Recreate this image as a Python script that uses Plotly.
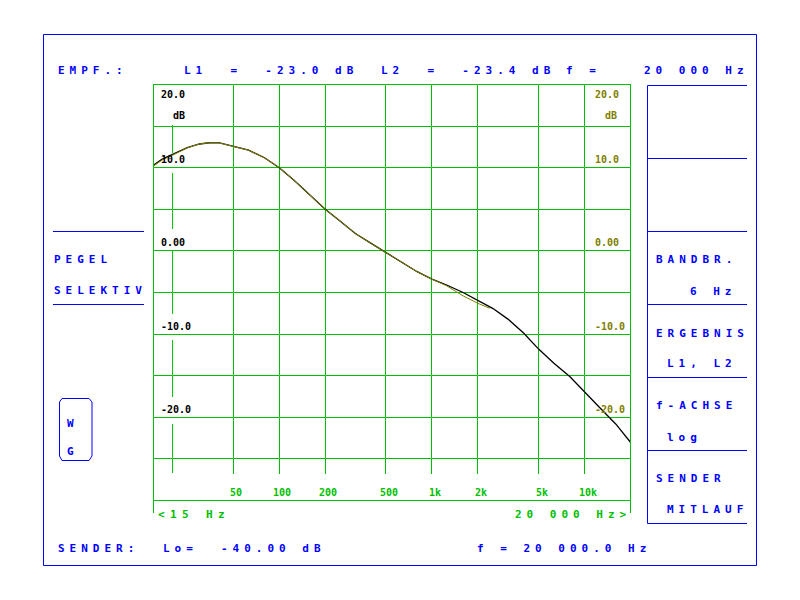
import math
import plotly.graph_objects as go

# ---------------- data ----------------
freq_l1 = [15, 17, 20, 25, 30, 35, 40, 50, 63, 80, 100, 125, 160, 200, 250, 315, 400,
           500, 630, 800, 1000, 1250, 1600, 2000, 2500, 3150, 4000, 5000, 6300, 8000,
           10000, 12500, 16000, 20000]
level_l1 = [10.3, 11.0, 11.6, 12.4, 12.85, 13.0, 13.0, 12.6, 12.1, 11.2, 10.0, 8.5, 6.7,
            5.0, 3.6, 2.1, 0.9, -0.2, -1.4, -2.5, -3.4, -4.1, -5.0, -6.0, -6.9, -8.2,
            -9.9, -11.8, -13.5, -15.1, -17.0, -18.8, -20.8, -23.0]
freq_l2 = [15, 17, 20, 25, 30, 35, 40, 50, 63, 80, 100, 125, 160, 200, 250, 315, 400,
           500, 630, 800, 1000, 1250, 1600, 2000, 2400]
level_l2 = [10.2, 10.9, 11.5, 12.4, 12.85, 13.0, 13.0, 12.6, 12.1, 11.2, 10.0, 8.5, 6.7,
            5.0, 3.6, 2.1, 0.9, -0.2, -1.4, -2.5, -3.4, -4.2, -5.4, -6.3, -6.9]

x_tick_vals = [50, 100, 200, 500, 1000, 2000, 5000, 10000]
x_tick_text = ["50", "100", "200", "500", "1k", "2k", "5k", "10k"]
y_tick_vals = [20, 10, 0, -10, -20]
y_tick_text = ["20.0", "10.0", "0.00", "-10.0", "-20.0"]
grid_freq = [50, 100, 200, 500, 1000, 2000, 5000, 10000]

F_MIN, F_MAX = 15, 20000
DB_MIN, DB_MAX = -30, 20
L1_TEXT = "-23.0"
L2_TEXT = "-23.4"
F_TEXT = "20 000"
LO_TEXT = "-40.00"
SENDER_F = "20 000.0"

# ---------------- layout helpers ----------------
W, H = 800, 600
OFF = 8  # page margin of the html body
BLUE = "#0000ff"
GREEN = "#00c000"
OLIVE = "#808000"
FONT = "DejaVu Sans Mono"
PLOT_TOP, PLOT_BOTTOM = 84.5, 500.5


def px(x):
    return (x - OFF) / W


def py(y):
    return 1 - (y - OFF) / H


annotations = []
shapes = []


def txt(s, x, y, color=BLUE, size=11, ls=5.0):
    s2 = s.replace(" ", "\u00a0")
    if ls:
        s2 = f'<span style="letter-spacing:{ls}px">{s2}</span>'
    annotations.append(dict(text=s2, x=px(x), y=py(y), xref="paper", yref="paper",
                            xanchor="left", yanchor="middle", showarrow=False,
                            borderpad=0,
                            font=dict(family=FONT, size=size, color=color, weight="bold")))


def pline(x0, y0, x1, y1, color=BLUE, width=1, layer="above"):
    shapes.append(dict(type="line", xref="paper", yref="paper",
                       x0=px(x0), y0=py(y0), x1=px(x1), y1=py(y1),
                       line=dict(color=color, width=width), layer=layer))


fig = go.Figure()
fig.add_trace(go.Scatter(x=freq_l1, y=level_l1, mode="lines",
                         line=dict(color="black", width=1.3),
                         hoverinfo="skip", showlegend=False))
fig.add_trace(go.Scatter(x=freq_l2, y=level_l2, mode="lines",
                         line=dict(color=OLIVE, width=1),
                         hoverinfo="skip", showlegend=False))

# outer blue frame
shapes.append(dict(type="rect", xref="paper", yref="paper",
                   x0=px(43.5), y0=py(34.5), x1=px(756.5), y1=py(565.5),
                   line=dict(color=BLUE, width=1)))

# left panel
pline(53, 231.5, 144, 231.5)
pline(53, 304.5, 144, 304.5)
wg = [(62, 398.5), (89, 398.5), (92, 402), (92, 456), (89, 460.5), (62, 460.5), (59.5, 456), (59.5, 402)]
path = "M " + " L ".join(f"{px(a):.5f},{py(b):.5f}" for a, b in wg) + " Z"
shapes.append(dict(type="path", xref="paper", yref="paper", path=path,
                   line=dict(color=BLUE, width=1)))

# right panel
pline(647.5, 85.5, 647.5, 523.5)
for yy in [85.5, 158.5, 231.5, 304.5, 377.5, 450.5, 523.5]:
    pline(647.5, yy, 747, yy)

# vertical grid lines end above the tick-label strip: white mask over that strip
shapes.append(dict(type="rect", xref="paper", yref="paper",
                   x0=px(154), x1=px(630), y0=py(474), y1=py(500),
                   fillcolor="white", line=dict(width=0), layer="above"))
# green plot frame
pline(153, 84.5, 631, 84.5, GREEN, 1, "above")
pline(153, 500.5, 631, 500.5, GREEN, 1, "above")
pline(153.5, 84, 153.5, 513, GREEN, 1, "above")
pline(630.5, 84, 630.5, 513, GREEN, 1, "above")
# 20 Hz line, interrupted by the level labels
for a, b in [(125, 153), (173, 229), (250, 314), (340, 397), (424, 473)]:
    shapes.append(dict(type="line", xref="x", yref="paper", x0=20, x1=20,
                       y0=py(a), y1=py(b), line=dict(color=GREEN, width=1), layer="below"))

# ---------------- texts ----------------
txt("EMPF.:", 57, 71)
txt(f"L1  =  {L1_TEXT} dB", 183, 71)
txt(f"L2  =  {L2_TEXT} dB", 380, 71)
txt("f =", 565, 71)
txt(f"{F_TEXT} Hz", 643, 71)

txt("PEGEL", 53, 260)
txt("SELEKTIV", 53, 290)
txt("W", 66, 423)
txt("G", 66, 451)

txt("BANDBR.", 655, 260)
txt("6 Hz", 689, 291)
txt("ERGEBNIS", 655, 333)
txt("L1, L2", 666, 363)
txt("f-ACHSE", 655, 405)
txt("log", 666, 437)
txt("SENDER", 655, 478)
txt("MITLAUF", 666, 509)

txt("SENDER:", 57, 548)
txt("Lo=", 162, 548)
txt(f"{LO_TEXT} dB", 220, 548)
txt(f"f = {SENDER_F} Hz", 476, 548)

txt("&lt;15 Hz", 157, 514, GREEN, 11, 5.4)
txt("20 000 Hz&gt;", 514, 514, GREEN, 11, 5.0)

# x tick labels (annotation x on a log axis is given in log10 units)
for v, t in zip(x_tick_vals, x_tick_text):
    annotations.append(dict(text=t, x=math.log10(v), xref="x", y=py(492), yref="paper",
                            xanchor="center", yanchor="middle", xshift=3, showarrow=False,
                            borderpad=0,
                            font=dict(family=FONT, size=10, color=GREEN, weight="bold")))

# y tick labels (left black, right olive)
for v, t in zip(y_tick_vals, y_tick_text):
    shift = -10.5 if v == DB_MAX else 8
    for xp, col in [(160, "black"), (594, OLIVE)]:
        annotations.append(dict(text=t, x=px(xp), xref="paper", y=v, yref="y", yshift=shift,
                                xanchor="left", yanchor="middle", showarrow=False, borderpad=0,
                                font=dict(family=FONT, size=10, color=col, weight="bold")))
for xp, col in [(171.5, "black"), (604, OLIVE)]:
    annotations.append(dict(text="dB", x=px(xp), xref="paper", y=DB_MAX, yref="y", yshift=-31.5,
                            xanchor="left", yanchor="middle", showarrow=False, borderpad=0,
                            font=dict(family=FONT, size=10, color=col, weight="bold")))

fig.update_layout(
    width=W, height=H,
    margin=dict(l=0, r=0, t=0, b=0),
    paper_bgcolor="white", plot_bgcolor="white",
    showlegend=False,
    xaxis=dict(type="log", range=[math.log10(F_MIN), math.log10(F_MAX)],
               domain=[px(153.5), px(630.5)], zeroline=False,
               tickmode="array", tickvals=grid_freq, showgrid=True,
               gridcolor=GREEN, gridwidth=1,
               showticklabels=False, showline=False, ticks=""),
    yaxis=dict(range=[DB_MIN, DB_MAX], domain=[py(PLOT_BOTTOM), py(PLOT_TOP)],
               tickmode="linear", tick0=0, dtick=5, showgrid=True,
               gridcolor=GREEN, gridwidth=1,
               zeroline=False, showticklabels=False, showline=False, ticks=""),
    annotations=annotations,
    shapes=shapes,
)

fig.write_html("out.html")
